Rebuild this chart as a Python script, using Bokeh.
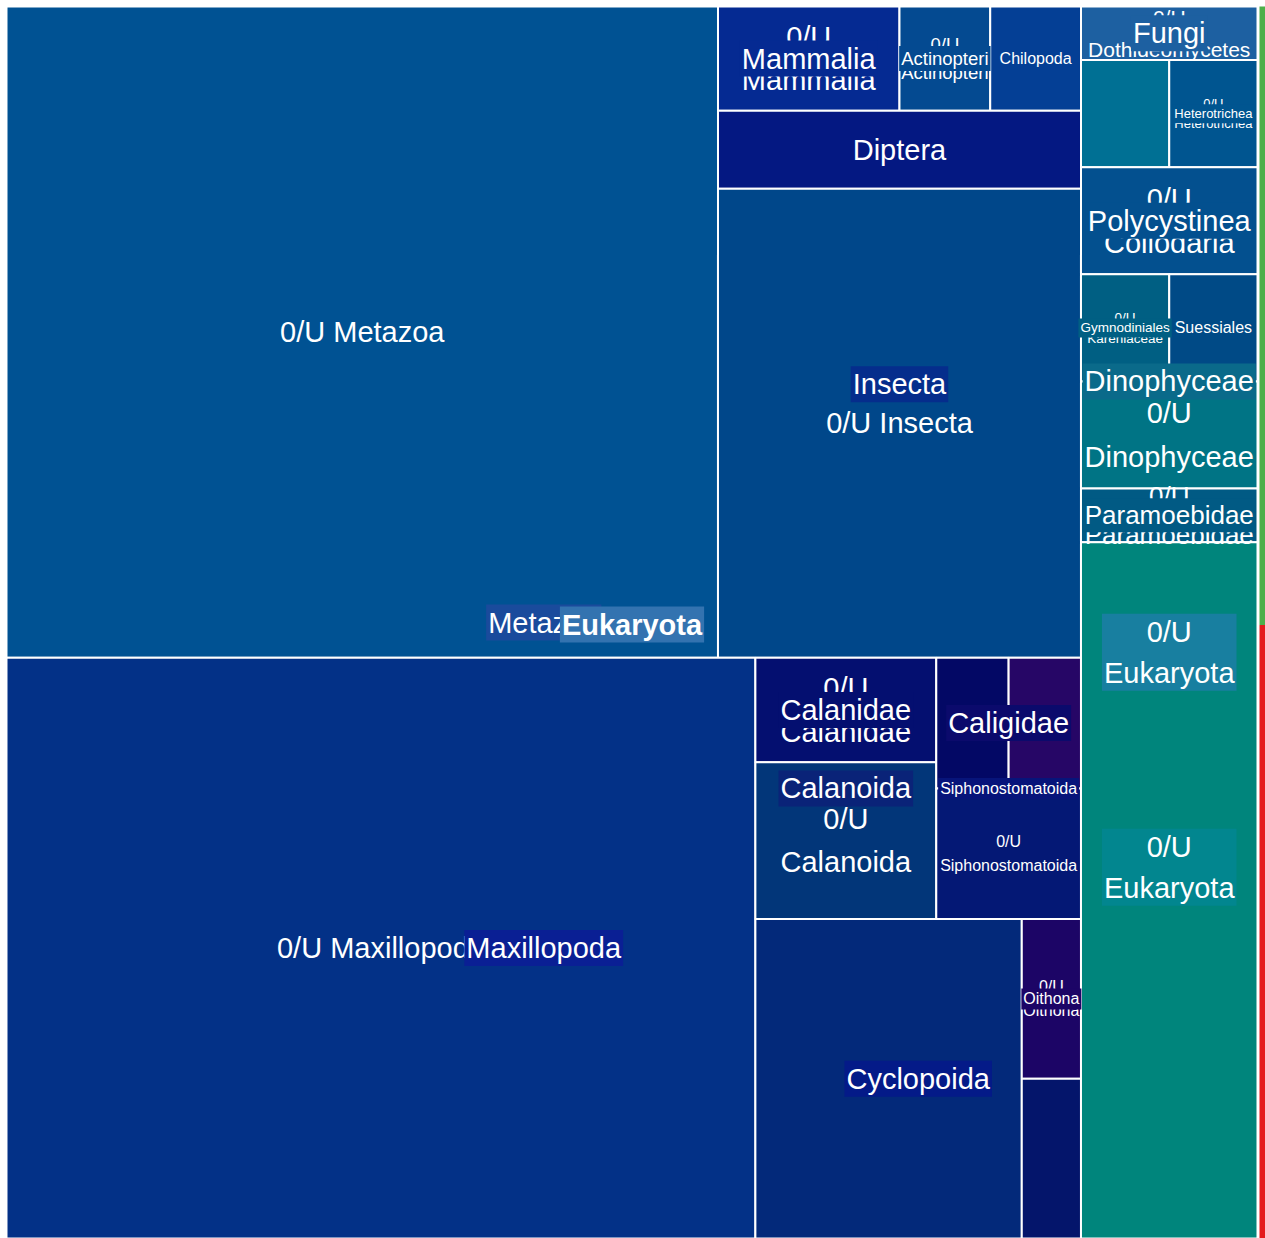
from bokeh.plotting import figure
from bokeh.models import ColumnDataSource, Range1d
from bokeh.embed import file_html
from bokeh.resources import INLINE
from bokeh.core.properties import value

# ---------------- data ----------------
LEAF_NAMES = ["0/U Metazoa", "Mammalia", "Actinopteri", "Chilopoda", "Diptera", "0/U Insecta",
              "0/U Maxillopoda", "Calanidae", "0/U Calanoida", "Caligidae a", "Caligidae b",
              "0/U Siphonostomatoida", "0/U Cyclopoida", "Oithona", "Cyclopoida b",
              "Dothideomycetes", "unassigned", "Heterotrichea", "Collodaria", "Kareniaceae",
              "Suessiales", "0/U Dinophyceae", "Paramoebidae", "0/U Eukaryota"]
LEAF_VALUES = [49, 2, 1, 1, 3, 18,
               46, 2, 3, 1, 1,
               2, 9, 1, 1,
               1, 1, 1, 2, 1,
               1, 2, 1, 13]
LEAF_COLORS = ["#005293", "#052a92", "#044a91", "#043f95", "#041882", "#00478a",
               "#033187", "#040f70", "#023679", "#030865", "#260666",
               "#041875", "#03297a", "#1c0566", "#04156b",
               "#1d60a1", "#007094", "#005590", "#03508f", "#005f83",
               "#004a86", "#007485", "#015a84", "#00857c"]
LEAF_LABELS = ["0/U Metazoa", "0/U\nMammalia", "0/U\nActinopteri", "Chilopoda", "Diptera", "0/U Insecta",
               "0/U Maxillopoda", "0/U\nCalanidae", "0/U\nCalanoida", "", "",
               "0/U\nSiphonostomatoida", "", "0/U\nOithona", "",
               "0/U\nDothideomycetes", "", "0/U\nHeterotrichea", "0/U\nCollodaria", "0/U\nKareniaceae",
               "Suessiales", "0/U\nDinophyceae", "0/U\nParamoebidae", ""]
LEAF_FONT_PX = [29, 29, 18.5, 16, 29, 29,
                29, 29, 29, 0, 0,
                16, 0, 16, 0,
                21, 0, 13, 29, 13.5,
                16, 29, 26, 0]

# group labels (drawn on top of the cells, centred on the members' extent)
GROUP_NAMES = ["Mammalia", "Actinopteri", "Insecta", "Calanidae", "Calanoida", "Caligidae",
               "Siphonostomatoida", "Oithona", "Cyclopoida", "Maxillopoda", "Fungi",
               "Heterotrichea", "Polycystinea", "Gymnodiniales", "Dinophyceae", "Paramoebidae",
               "0/U\nEukaryota", "0/U\nEukaryota", "Metazoa"]
GROUP_MEMBERS = [["Mammalia"], ["Actinopteri"], ["Diptera", "0/U Insecta"], ["Calanidae"],
                 ["Calanidae", "0/U Calanoida"], ["Caligidae a", "Caligidae b"],
                 ["Caligidae a", "Caligidae b", "0/U Siphonostomatoida"], ["Oithona"],
                 ["0/U Cyclopoida", "Oithona", "Cyclopoida b"],
                 ["0/U Maxillopoda", "Calanidae", "0/U Calanoida", "Caligidae a", "Caligidae b",
                  "0/U Siphonostomatoida", "0/U Cyclopoida", "Oithona", "Cyclopoida b"],
                 ["Dothideomycetes"], ["Heterotrichea"], ["Collodaria"], ["Kareniaceae"],
                 ["Kareniaceae", "Suessiales", "0/U Dinophyceae"], ["Paramoebidae"],
                 ["0/U Eukaryota"], ["0/U Eukaryota"],
                 LEAF_NAMES[:15]]
GROUP_BG = ["#052a92", "#044a91", "#052d8c", "#040f70", "#0a2378", "#0b0a6c",
            "#07147a", "#1c0566", "#041a88", "#0a1f94", "#1d60a1",
            "#005590", "#03508f", "#005f83", "#0a6a8a", "#015a84",
            "#187fa0", "#02868f", "#1a4b9c"]
GROUP_FONT_PX = [29, 18.5, 29, 29, 29, 29, 16, 16, 29, 29, 29, 13, 29, 13.5, 29, 26, 29, 29, 29]

ROOT_LABEL = "Eukaryota"
ROOT_BG = "#3373b0"

# side strip
STRIP_NAMES = ["A", "B"]
STRIP_VALUES = [50.2, 49.8]
STRIP_COLORS = ["#4daf4a", "#e41a1c"]

# slice-layout structure (direction, children)
LAYOUT = ("x", [
    ("y", [
        ("x", ["0/U Metazoa",
               ("y", [("x", ["Mammalia", "Actinopteri", "Chilopoda"]),
                      ("y", ["Diptera", "0/U Insecta"])])]),
        ("x", ["0/U Maxillopoda",
               ("y", [("x", [("y", ["Calanidae", "0/U Calanoida"]),
                             ("y", [("x", ["Caligidae a", "Caligidae b"]), "0/U Siphonostomatoida"])]),
                      ("x", ["0/U Cyclopoida", ("y", ["Oithona", "Cyclopoida b"])])])]),
    ]),
    ("y", ["Dothideomycetes", ("x", ["unassigned", "Heterotrichea"]), "Collodaria",
           ("y", [("x", ["Kareniaceae", "Suessiales"]), "0/U Dinophyceae"]),
           "Paramoebidae", "0/U Eukaryota"]),
])

# ---------------- layout ----------------
VAL = dict(zip(LEAF_NAMES, LEAF_VALUES))


def total(node):
    if isinstance(node, str):
        return VAL[node]
    return sum(total(c) for c in node[1])


def layout(node, x0, y0, x1, y1, out):
    if isinstance(node, str):
        out[node] = (x0, y0, x1, y1)
        return
    d, children = node
    tots = [total(c) for c in children]
    s = float(sum(tots))
    pos = x0 if d == "x" else y0
    for c, t in zip(children, tots):
        if d == "x":
            w = (x1 - x0) * t / s
            layout(c, pos, y0, pos + w, y1, out)
            pos += w
        else:
            h = (y1 - y0) * t / s
            layout(c, x0, pos, x1, pos + h, out)
            pos += h


X0, Y0, X1, Y1 = 6, 6, 1257, 1238
rects = {}
layout(LAYOUT, X0, Y0, X1, Y1, rects)

p = figure(width=1265, height=1238, x_range=Range1d(0, 1265), y_range=Range1d(1238, 0),
           output_backend="svg", toolbar_location=None, min_border=0,
           x_axis_location=None, y_axis_location=None)
p.outline_line_color = None
p.xgrid.visible = False
p.ygrid.visible = False
p.background_fill_color = "white"
p.border_fill_color = "white"

# strip
st_total = sum(STRIP_VALUES)
sy = Y0
s_top, s_bot = [], []
for v in STRIP_VALUES:
    h = (Y1 - Y0) * v / st_total
    s_top.append(sy)
    s_bot.append(sy + h)
    sy += h
p.quad(left=[1259] * len(STRIP_VALUES), right=[1275] * len(STRIP_VALUES), top=s_top, bottom=s_bot,
       fill_color=STRIP_COLORS, line_color=None)

# cells
src = ColumnDataSource(dict(
    left=[rects[n][0] for n in LEAF_NAMES], right=[rects[n][2] for n in LEAF_NAMES],
    top=[rects[n][1] for n in LEAF_NAMES], bottom=[rects[n][3] for n in LEAF_NAMES],
    color=LEAF_COLORS))
p.quad(left="left", right="right", top="top", bottom="bottom", source=src,
       fill_color="color", line_color="white", line_width=2)

FONT = value("Liberation Sans")
LINE_F = 1.5

# leaf labels (each line separately)
lx, ly, lt, ls = [], [], [], []
for n, lab, fs in zip(LEAF_NAMES, LEAF_LABELS, LEAF_FONT_PX):
    if not lab:
        continue
    x0, y0, x1, y1 = rects[n]
    cx, cy = (x0 + x1) / 2, (y0 + y1) / 2
    lines = lab.split("\n")
    k = len(lines)
    for i, line in enumerate(lines):
        lx.append(cx)
        ly.append(cy + (i - (k - 1) / 2) * fs * LINE_F)
        lt.append(line)
        ls.append("%gpx" % fs)
p.text(x="x", y="y", text="t", source=ColumnDataSource(dict(x=lx, y=ly, t=lt, s=ls)),
       text_font=FONT, text_font_size="s", text_color="white",
       text_align="center", text_baseline="middle")

# group labels
GROUP_DY = {16: -238, 17: -23}
gx, gy, gt, gs, gb = [], [], [], [], []
for i, (n, mem, bg, fs) in enumerate(zip(GROUP_NAMES, GROUP_MEMBERS, GROUP_BG, GROUP_FONT_PX)):
    xs0 = min(rects[m][0] for m in mem)
    xs1 = max(rects[m][2] for m in mem)
    ys0 = min(rects[m][1] for m in mem)
    ys1 = max(rects[m][3] for m in mem)
    gx.append((xs0 + xs1) / 2)
    gy.append((ys0 + ys1) / 2 + GROUP_DY.get(i, 0))
    gt.append(n)
    gs.append("%gpx" % fs)
    gb.append(bg)
p.text(x="x", y="y", text="t", source=ColumnDataSource(dict(x=gx, y=gy, t=gt, s=gs, bg=gb)),
       text_font=FONT, text_font_size="s", text_color="white", text_line_height=1.28,
       text_align="center", text_baseline="middle",
       background_fill_color="bg", padding=2)

# root label
p.text(x=[(X0 + X1) / 2], y=[(Y0 + Y1) / 2 + 2], text=[ROOT_LABEL],
       text_font=FONT, text_font_size="29px", text_font_style="bold", text_color="white",
       text_align="center", text_baseline="middle",
       background_fill_color=ROOT_BG, padding=2)

open("out.html", "w").write(file_html(p, INLINE))
